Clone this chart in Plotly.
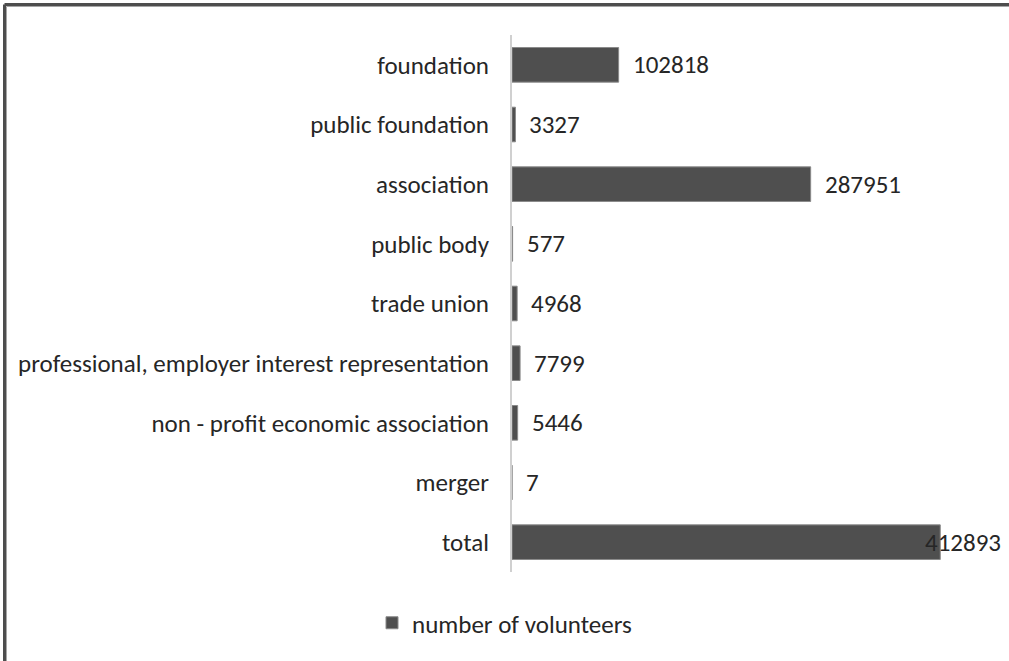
import plotly.graph_objects as go

categories = ["foundation", "public foundation", "association", "public body", "trade union",
              "professional, employer interest representation", "non - profit economic association",
              "merger", "total"]
values = [102818, 3327, 287951, 577, 4968, 7799, 5446, 7, 412893]
series_name = "number of volunteers"

BAR = "#4f4f4f"
TXT = "#262626"
FONT = "Carlito, Open Sans, sans-serif"
FS = 25

fig = go.Figure()
fig.add_trace(go.Bar(
    y=categories, x=values, orientation="h", name=series_name,
    marker=dict(color=BAR, line=dict(color="#8a8a8a", width=1)),
    width=0.58, showlegend=True,
))

# value labels
for c, v in zip(categories, values):
    shift = -17 if c == "total" else 12
    fig.add_annotation(x=v, y=c, text=str(v), showarrow=False, xanchor="left",
                       xshift=shift, font=dict(size=FS, color=TXT, family=FONT))

W, H = 1009, 661
L, R, T, B = 512, 51, 35, 89
pw, ph = W - L - R, H - T - B

def px(xp):
    return (xp - L) / pw

def py(yp):
    return (H - B - yp) / ph

# outer frame (top and left visible)
fig.add_shape(type="line", xref="paper", yref="paper", x0=px(4.5), x1=px(W), y0=py(4.5), y1=py(4.5),
              line=dict(color="#4d4d4d", width=3))
fig.add_shape(type="line", xref="paper", yref="paper", x0=px(4.5), x1=px(4.5), y0=py(4.5), y1=py(H),
              line=dict(color="#4d4d4d", width=3))
fig.add_shape(type="line", xref="paper", yref="paper", x0=px(6.5), x1=px(W), y0=py(6.5), y1=py(6.5),
              line=dict(color="#a6a6a6", width=1))
fig.add_shape(type="line", xref="paper", yref="paper", x0=px(6.5), x1=px(6.5), y0=py(6.5), y1=py(H),
              line=dict(color="#a6a6a6", width=1))

fig.update_layout(
    width=W, height=H,
    margin=dict(l=L, r=R, t=T, b=B),
    paper_bgcolor="white", plot_bgcolor="white",
    font=dict(family=FONT, size=FS, color=TXT),
    bargap=0.42,
    xaxis=dict(range=[0, 430000], showgrid=False, zeroline=False, showticklabels=False,
               showline=False, fixedrange=True),
    yaxis=dict(categoryorder="array", categoryarray=categories[::-1], autorange=True,
               showgrid=False, zeroline=False, showline=True, linecolor="#d0d0d0", linewidth=2,
               ticks="outside", ticklen=16, tickcolor="rgba(0,0,0,0)",
               tickfont=dict(size=FS, color=TXT, family=FONT)),
    legend=dict(orientation="h", xref="container", yref="container", x=0.5, y=1 - 623 / H,
                xanchor="center", yanchor="middle", font=dict(size=FS, color=TXT, family=FONT),
                itemwidth=30),
)

fig.write_html("out.html", config={"displayModeBar": False},
               post_script="document.body.style.margin='0';document.body.style.overflow='hidden';"
                           "document.documentElement.style.overflow='hidden';")
